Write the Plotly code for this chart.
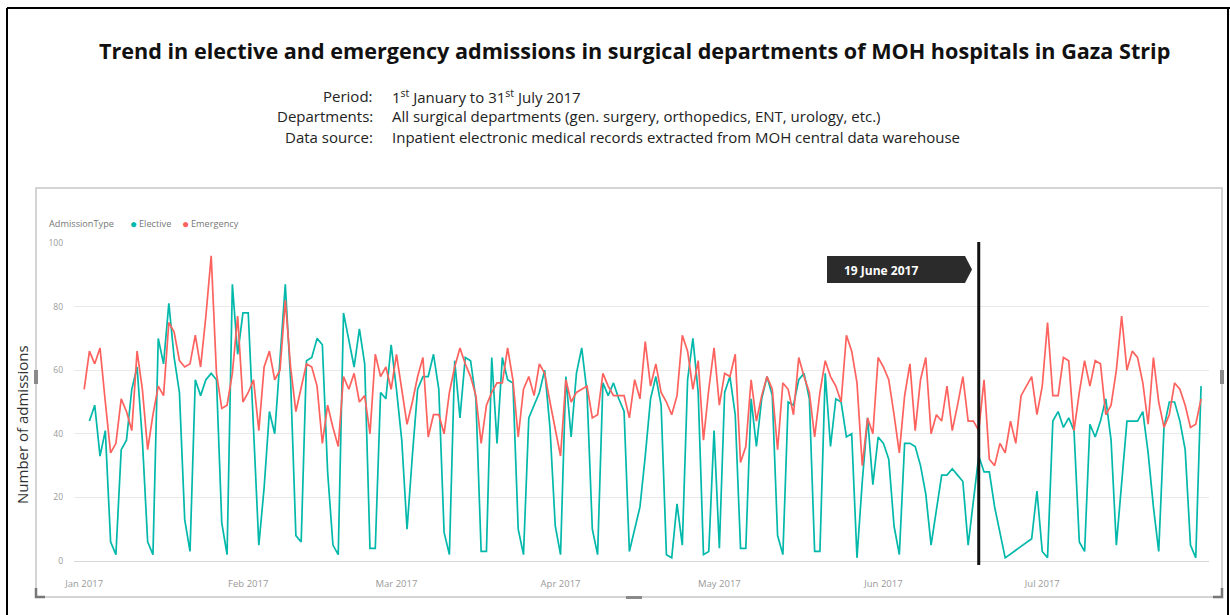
import pandas as pd
import plotly.graph_objects as go

# ---------------- data ----------------
dates = pd.date_range("2017-01-01", "2017-07-31", freq="D")
month_ticks = pd.date_range("2017-01-01", "2017-07-01", freq="MS")

emergency = [
    # Jan 1 - Mar 11 (days 0-69)
    54, 66, 62, 67, 50, 34, 37, 51, 47, 41, 66, 54, 35, 46, 55, 52, 75, 72, 63, 61,
    62, 71, 61, 77, 96, 59, 48, 49, 59, 77, 50, 53, 57, 41, 61, 66, 57, 60, 82, 61,
    47, 55, 62, 61, 55, 37, 49, 42, 36, 58, 54, 59, 50, 52, 40, 65, 58, 61, 54, 65,
    54, 43, 50, 58, 64, 39, 46, 46, 40, 53,
    # days 70-142
    61, 67, 62, 58, 52, 37, 49, 53, 56, 56, 67, 57, 39, 54, 58, 52, 62, 59, 50, 42,
    33, 57, 50, 53, 54, 55, 45, 46, 59, 55, 52, 52, 52, 45, 57, 51, 69, 55, 62, 53,
    50, 46, 52, 71, 66, 54, 63, 38, 54, 67, 49, 59, 58, 65, 31, 36, 57, 44, 52, 58,
    54, 35, 56, 54, 46, 64, 58, 53, 39, 53, 63, 58, 55,
    # days 143-211
    50, 71, 66, 56, 30, 45, 40, 64, 61, 57, 46, 34, 52, 62, 41, 57, 64, 40, 46, 44,
    55, 41, 49, 58, 44, 44, 41, 57, 32, 30, 37, 34, 44, 37, 52, 55, 58, 46, 55, 75,
    52, 52, 64, 63, 41, 53, 63, 55, 63, 62, 46, 49, 60, 77, 60, 66, 64, 56, 43, 64,
    50, 42, 46, 56, 54, 49, 42, 43, 51,
]

elective = [
    # days 0-69
    None, 44, 49, 33, 41, 6, 2, 35, 38, 54, 61, 38, 6, 2, 70, 62, 81, 64, 53, 13,
    3, 57, 52, 57, 59, 57, 12, 2, 87, 65, 78, 78, 42, 5, 23, 47, 40, 62, 87, 57,
    8, 6, 63, 64, 70, 68, 28, 5, 2, 78, 69, 61, 73, 62, 4, 4, 53, 51, 68, 54,
    38, 10, 33, 54, 58, 58, 65, 54, 9, 2,
    # days 70-142
    63, 45, 64, 63, 51, 3, 3, 64, 37, 64, 57, 56, 10, 2, 45, 49, 53, 60, 42, 11,
    2, 58, 39, 59, 67, 53, 10, 2, 56, 52, 56, 51, 47, 3, 10, 17, 33, 51, 58, 49,
    2, 1, 18, 5, 57, 70, 53, 2, 3, 41, 4, 53, 58, 46, 4, 4, 51, 36, 51, 58,
    52, 8, 2, 50, 49, 57, 59, 51, 3, 3, 59, 36, 51,
    # days 143-211
    50, 39, 40, 1, 25, 45, 24, 39, 37, 32, 11, 2, 37, 37, 36, 30, 21, 5, 16, 27,
    27, 29, 27, 25, 5, 19, 33, 28, 28, 17, 9, 1, None, None, None, None, 7, 22, 3, 1,
    44, 47, 42, 45, 41, 6, 3, 43, 39, 44, 51, 38, 5, 24, 44, 44, 44, 47, 34, 17,
    3, 42, 50, 50, 44, 35, 5, 1, 55,
]

series_names = ["Elective", "Emergency"]
series_colors = ["#01B8AA", "#FD625E"]
legend_title = "AdmissionType"
y_ticks = [0, 20, 40, 60, 80, 100]
marker_date = "2017-06-19"
marker_label = "19 June 2017"

title_text = "Trend in elective and emergency admissions in surgical departments of MOH hospitals in Gaza Strip"
info_labels = ["Period:", "Departments:", "Data source:"]
info_values = [
    "1<sup>st</sup> January to 31<sup>st</sup> July 2017",
    "All surgical departments (gen. surgery, orthopedics, ENT, urology, etc.)",
    "Inpatient electronic medical records extracted from MOH central data warehouse",
]

# ---------------- layout helpers (pixel -> paper) ----------------
W, H = 1230, 615
L, R, T, B = 74, 1209, 243, 561
FONT = "Open Sans"


def px(x):
    return (x - L) / (R - L)


def py(y):
    return (B - y) / (B - T)


fig = go.Figure()
for name, vals, col in zip(series_names, [elective, emergency], series_colors):
    fig.add_trace(go.Scatter(
        x=dates, y=vals, mode="lines", name=name,
        line=dict(color=col, width=1.7), connectgaps=True, showlegend=False,
    ))

shapes = []
# outer black frame of the screenshot
shapes.append(dict(type="line", xref="paper", yref="paper", x0=px(7), x1=px(7), y0=py(8), y1=py(640),
                   line=dict(color="black", width=2)))
shapes.append(dict(type="line", xref="paper", yref="paper", x0=px(7), x1=px(1240), y0=py(8), y1=py(8),
                   line=dict(color="black", width=2)))
shapes.append(dict(type="line", xref="paper", yref="paper", x0=px(1228), x1=px(1228), y0=py(8), y1=py(640),
                   line=dict(color="black", width=2)))
# visual container frame
shapes.append(dict(type="rect", xref="paper", yref="paper", x0=px(36), x1=px(1222), y0=py(597), y1=py(188),
                   line=dict(color="#c6c6c6", width=1.5)))
# resize handles
for (x0, x1, y0, y1) in [(34, 38, 370, 384), (1220, 1224, 370, 384), (626, 642, 596, 599)]:
    shapes.append(dict(type="rect", xref="paper", yref="paper", x0=px(x0), x1=px(x1), y0=py(y1), y1=py(y0),
                       line=dict(width=0), fillcolor="#8a8a8a"))
shapes.append(dict(type="path", xref="paper", yref="paper",
                   path=f"M {px(36)} {py(588)} L {px(36)} {py(597)} L {px(45)} {py(597)}",
                   line=dict(color="#777", width=2.5)))
shapes.append(dict(type="path", xref="paper", yref="paper",
                   path=f"M {px(1213)} {py(597)} L {px(1222)} {py(597)} L {px(1222)} {py(588)}",
                   line=dict(color="#777", width=2.5)))
# vertical marker line
shapes.append(dict(type="line", xref="x", yref="paper", x0=marker_date, x1=marker_date, y0=py(565), y1=py(242),
                   line=dict(color="#111", width=3)))
# marker label box (pentagon pointing right)
shapes.append(dict(type="path", xref="paper", yref="paper",
                   path=(f"M {px(827)} {py(256)} L {px(965)} {py(256)} L {px(972)} {py(269.5)} "
                         f"L {px(965)} {py(283)} L {px(827)} {py(283)} Z"),
                   fillcolor="#2b2b2b", line=dict(width=0)))


def note(text, x, y, size, color, xanchor="left", **kw):
    return dict(text=text, xref="paper", yref="paper", x=px(x), y=py(y), xanchor=xanchor, yanchor="middle",
                showarrow=False, font=dict(family=FONT, size=size, color=color), **kw)


ann = []
ann.append(note(f"<b>{title_text}</b>", 634, 50, 21.6, "#111", xanchor="center"))
for i, (lab, val) in enumerate(zip(info_labels, info_values)):
    yy = 96 + i * 20.5
    ann.append(note(lab, 375, yy, 15, "#222", xanchor="right"))
    ann.append(note(val, 390, yy, 15, "#222"))
# legend
ann.append(note(legend_title, 47, 223, 9.2, "#777"))
ann.append(note("●", 128, 223, 12, series_colors[0]))
ann.append(note(series_names[0], 137, 223, 9.2, "#777"))
ann.append(note("●", 180, 223, 12, series_colors[1]))
ann.append(note(series_names[1], 189, 223, 9.2, "#777"))
# y axis title
ann.append(note("Number of admissions", 22, 425, 15, "#333", xanchor="center", textangle=-90))
# marker label text
ann.append(note(f"<b>{marker_label}</b>", 842, 270, 12, "white"))

fig.update_layout(
    width=W, height=H,
    margin=dict(l=L, r=W - R, t=T, b=H - B, autoexpand=False),
    paper_bgcolor="white", plot_bgcolor="white",
    shapes=shapes, annotations=ann, showlegend=False,
    xaxis=dict(
        type="date", range=["2016-12-30 02:00", "2017-08-01 12:00"],
        tickvals=month_ticks, tickformat="%b %Y", automargin=False,
        showgrid=False, zeroline=False, showline=False, ticks="",
        ticklabelstandoff=15,
        tickfont=dict(family=FONT, size=9.5, color="#999"),
    ),
    yaxis=dict(
        range=[0, 100], tickvals=y_ticks, showgrid=True, gridcolor="#e9e9e9", gridwidth=1,
        zeroline=True, zerolinecolor="#d8d8d8", zerolinewidth=1, showline=False, ticks="",
        ticklabelstandoff=10, automargin=False,
        tickfont=dict(family=FONT, size=8.5, color="#999"),
    ),
)

fig.write_html(
    "out.html",
    config={"displayModeBar": False, "staticPlot": True},
    post_script="document.body.style.margin='0px';document.body.style.overflow='hidden';",
)
